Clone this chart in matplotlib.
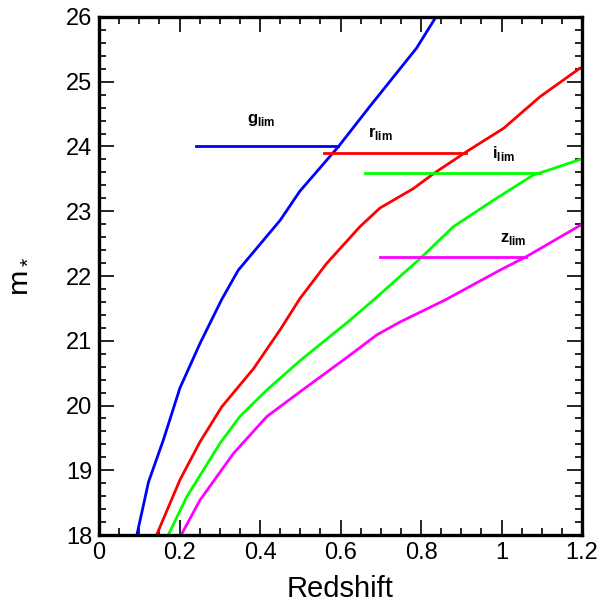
import matplotlib
matplotlib.use('Agg')
import matplotlib.pyplot as plt
from matplotlib.ticker import MultipleLocator

plt.rcParams['font.family'] = ['Liberation Sans', 'DejaVu Sans']
plt.rcParams['mathtext.fontset'] = 'custom'
plt.rcParams['mathtext.rm'] = 'Liberation Sans'
plt.rcParams['mathtext.bf'] = 'Liberation Sans:bold'

# curves: redshift, m*
g_z = [0.094, 0.123, 0.160, 0.201, 0.251, 0.305, 0.346, 0.450, 0.499, 0.595, 0.673, 0.789, 0.835]
g_m = [18.0, 18.82, 19.47, 20.27, 20.96, 21.64, 22.09, 22.86, 23.31, 24.0, 24.62, 25.52, 25.98]

r_z = [0.143, 0.201, 0.251, 0.305, 0.384, 0.450, 0.499, 0.565, 0.648, 0.698, 0.781, 0.831, 0.913, 1.005, 1.096, 1.195]
r_m = [18.0, 18.85, 19.44, 19.98, 20.57, 21.17, 21.65, 22.19, 22.76, 23.05, 23.35, 23.58, 23.92, 24.28, 24.77, 25.21]

i_z = [0.172, 0.218, 0.301, 0.350, 0.417, 0.499, 0.624, 0.684, 0.798, 0.880, 0.980, 1.079, 1.129, 1.195]
i_m = [18.0, 18.59, 19.42, 19.83, 20.24, 20.69, 21.32, 21.64, 22.27, 22.76, 23.17, 23.56, 23.66, 23.80]

zz_z = [0.204, 0.251, 0.334, 0.417, 0.499, 0.624, 0.690, 0.748, 0.860, 0.996, 1.062, 1.195]
zz_m = [18.0, 18.54, 19.26, 19.83, 20.21, 20.78, 21.09, 21.29, 21.63, 22.09, 22.30, 22.78]

# limit lines: (z start, z end, m)
g_lim = (0.240, 0.595, 24.0)
r_lim = (0.559, 0.913, 23.90)
i_lim = (0.661, 1.096, 23.59)
z_lim = (0.698, 1.062, 22.30)

fig = plt.figure(figsize=(6.06, 6.07), dpi=100)
ax = fig.add_axes([0.1634, 0.1186, 0.797, 0.8534])

lw = 2.0
ax.plot(g_z, g_m, color='#0000ff', lw=lw)
ax.plot(r_z, r_m, color='#ff0000', lw=lw)
ax.plot(i_z, i_m, color='#00ff00', lw=lw)
ax.plot(zz_z, zz_m, color='#ff00ff', lw=lw)

for lim, c in [(g_lim, '#0000ff'), (r_lim, '#ff0000'), (i_lim, '#00ff00'), (z_lim, '#ff00ff')]:
    ax.plot([lim[0], lim[1]], [lim[2], lim[2]], color=c, lw=lw)

kw = dict(fontsize=12, fontweight='bold', ha='left', va='baseline')
ax.text(0.368, 24.36, r'g$_{\mathbf{lim}}$', **kw)
ax.text(0.668, 24.15, r'r$_{\mathbf{lim}}$', **kw)
ax.text(0.976, 23.82, r'i$_{\mathbf{lim}}$', **kw)
ax.text(0.996, 22.53, r'z$_{\mathbf{lim}}$', **kw)

ax.set_xlim(0, 1.2)
ax.set_ylim(18, 26)
ax.xaxis.set_major_locator(MultipleLocator(0.2))
ax.xaxis.set_minor_locator(MultipleLocator(0.05))
ax.yaxis.set_major_locator(MultipleLocator(1))
ax.yaxis.set_minor_locator(MultipleLocator(0.2))
ax.set_xticks([0, 0.2, 0.4, 0.6, 0.8, 1.0, 1.2])
ax.set_xticklabels(['0', '0.2', '0.4', '0.6', '0.8', '1', '1.2'])

ax.tick_params(which='both', direction='in', top=True, right=True, labelsize=17, width=1.2)
ax.tick_params(which='major', length=11, pad=5)
ax.tick_params(which='minor', length=5)
for s in ax.spines.values():
    s.set_linewidth(2.4)

ax.set_xlabel('Redshift', fontsize=21, labelpad=8)
ax.set_ylabel(r'm$_*$', fontsize=22, labelpad=24)

fig.savefig('out.png', dpi=100)
